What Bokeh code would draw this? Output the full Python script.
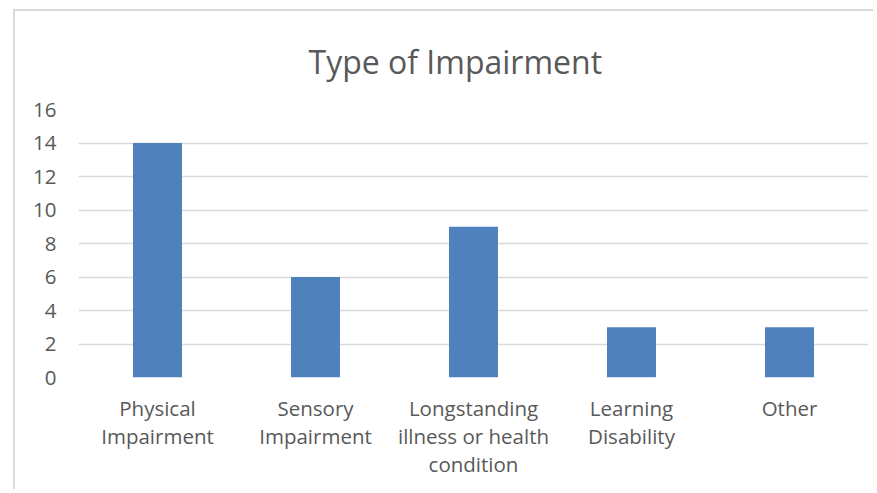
from bokeh.plotting import figure
from bokeh.models import Range1d, ColumnDataSource
from bokeh.embed import file_html
from bokeh.resources import INLINE

categories = ["Physical\nImpairment", "Sensory\nImpairment",
              "Longstanding\nillness or health\ncondition",
              "Learning\nDisability", "Other"]
counts = [14, 6, 9, 3, 3]
y_ticks = [0, 2, 4, 6, 8, 10, 12, 14, 16]

FONT = "Open Sans"
TXT = "#595959"
GRID = "#d9d9d9"

src = ColumnDataSource(data=dict(cat=categories, val=counts))

p = figure(x_range=categories, y_range=Range1d(0, 16),
           width=860, height=480, output_backend="svg", toolbar_location=None,
           title="Type of Impairment",
           min_border_left=63, min_border_right=7, min_border_top=98, min_border_bottom=114)
p.margin = (9, 0, 0, 13)
p.styles = {"border-left": "2px solid #d9d9d9", "border-top": "2px solid #d9d9d9"}

p.vbar(x="cat", top="val", width=0.31, source=src, fill_color="#4F81BD", line_color=None)

p.title.align = "left"
p.title.offset = 230
p.title.text_font = FONT
p.title.text_font_size = "32px"
p.title.text_font_style = "normal"
p.title.text_color = TXT
p.title.standoff = 53

p.outline_line_color = None
p.xgrid.grid_line_color = None
p.ygrid.grid_line_color = GRID
p.ygrid.grid_line_width = 1.5
p.yaxis.ticker = y_ticks

for ax in (p.xaxis[0], p.yaxis[0]):
    ax.axis_line_color = None
    ax.major_tick_line_color = None
    ax.minor_tick_line_color = None
    ax.major_label_text_font = FONT
    ax.major_label_text_font_size = "20.5px"
    ax.major_label_text_color = TXT

p.xaxis.major_label_text_line_height = 1.0
p.xaxis.major_label_standoff = 10
p.yaxis.major_label_standoff = 16

open("out.html", "w").write(file_html(p, INLINE))
